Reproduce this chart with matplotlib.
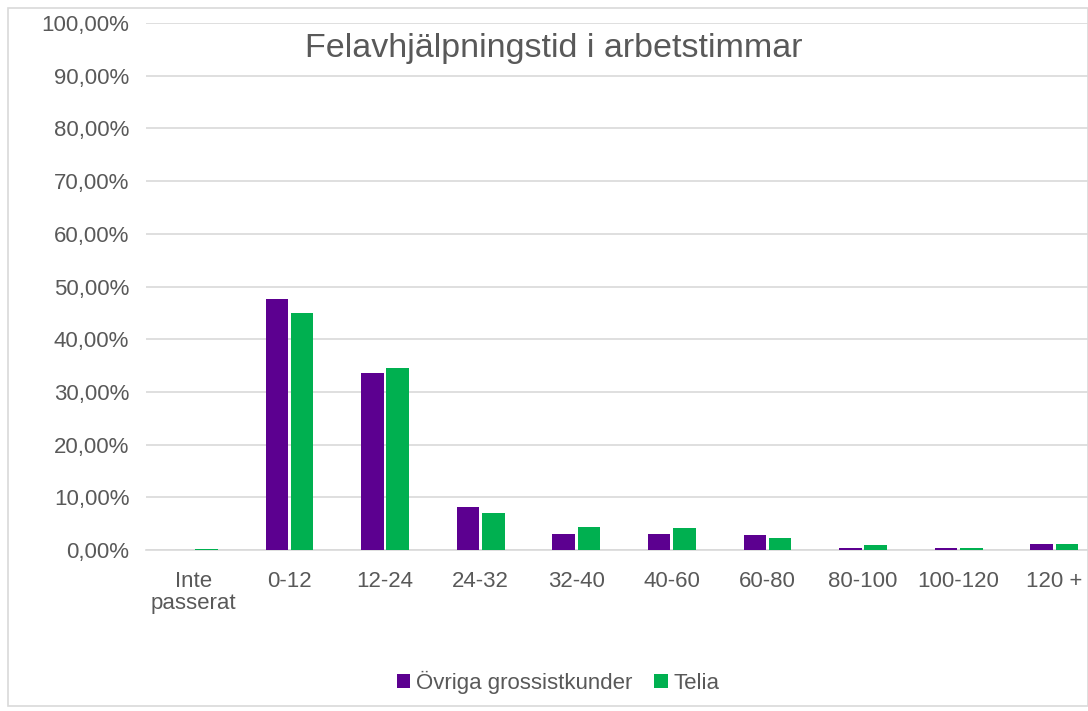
import matplotlib.pyplot as plt
import numpy as np
from matplotlib.ticker import FuncFormatter
from matplotlib.patches import Rectangle

categories = ["Inte\npasserat", "0-12", "12-24", "24-32", "32-40", "40-60",
              "60-80", "80-100", "100-120", "120 +"]
ovriga = [0.0, 47.6, 33.6, 8.1, 3.0, 3.0, 2.8, 0.3, 0.3, 1.1]
telia = [0.2, 45.0, 34.5, 7.0, 4.3, 4.1, 2.3, 1.0, 0.3, 1.2]
series_names = ["Övriga grossistkunder", "Telia"]

plt.rcParams['font.family'] = ['Liberation Sans', 'DejaVu Sans']
grey = '#595959'

fig = plt.figure(figsize=(10.88, 7.11), dpi=100)
fig.patches.append(Rectangle((8 / 1088, 5 / 711), 1 - 8 / 1088, 1 - 13 / 711,
                             transform=fig.transFigure, fill=False,
                             edgecolor='#d9d9d9', linewidth=1.2))

ax = fig.add_axes([146 / 1088, 1 - 550 / 711, 956 / 1088, 527 / 711])
x = np.arange(len(categories))
w = 0.235
ax.bar(x - w / 2 - 0.015, ovriga, w, color='#5c0090', label=series_names[0], zorder=3)
ax.bar(x + w / 2 + 0.015, telia, w, color='#00b050', label=series_names[1], zorder=3)

ax.set_xlim(-0.5, len(categories) - 0.5)
ax.set_ylim(0, 100)
ax.set_yticks(np.arange(0, 101, 10))
ax.yaxis.set_major_formatter(FuncFormatter(lambda v, p: f"{v:.2f}%".replace('.', ',')))
ax.grid(axis='y', color='#d9d9d9', linewidth=1.2, zorder=0)
ax.set_xticks(x)
ax.set_xticklabels(categories, linespacing=1.1)
ax.tick_params(axis='both', length=0, labelsize=16, colors=grey)
ax.tick_params(axis='y', pad=12)
ax.tick_params(axis='x', pad=15)
for s in ['top', 'right', 'left']:
    ax.spines[s].set_visible(False)
ax.spines['bottom'].set_color('#d9d9d9')
ax.spines['bottom'].set_linewidth(1.2)

fig.text(305 / 1088, 1 - 48 / 711, "Felavhjälpningstid i arbetstimmar",
         ha='left', va='center', fontsize=24.5, color=grey)

fig.legend(loc='center', bbox_to_anchor=(558 / 1088, 1 - 682 / 711), ncol=2,
           frameon=False, fontsize=16, labelcolor=grey, handlelength=0.6,
           handleheight=0.6, handletextpad=0.25, columnspacing=1.0)

fig.savefig("out.png", dpi=100)
